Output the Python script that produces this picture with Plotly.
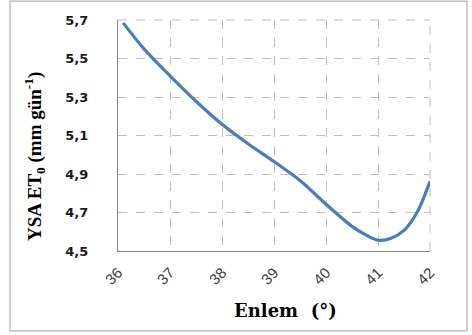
import plotly.graph_objects as go

# Data
latitude = [36.1, 36.5, 37.0, 37.5, 38.0, 38.5, 39.0, 39.5, 40.0, 40.5, 40.75, 41.0, 41.25, 41.5, 41.75, 42.0]
et0 = [5.685, 5.55, 5.41, 5.278, 5.158, 5.057, 4.965, 4.866, 4.743, 4.628, 4.586, 4.556, 4.566, 4.607, 4.70, 4.862]

x_ticks = [36, 37, 38, 39, 40, 41, 42]
y_ticks = [4.5, 4.7, 4.9, 5.1, 5.3, 5.5, 5.7]

fig = go.Figure()
fig.add_trace(go.Scatter(
    x=latitude, y=et0, mode="lines",
    line=dict(color="#4a7ebb", width=3.2, shape="spline", smoothing=0.9),
    showlegend=False, hoverinfo="skip",
))

grid_col = "#bfbfbf"
fig.update_layout(
    width=472, height=335,
    margin=dict(l=118, r=42, t=20, b=84),
    paper_bgcolor="white", plot_bgcolor="white",
    separators=",.",
    xaxis=dict(
        range=[36, 42], tickvals=x_ticks, ticktext=[str(v) for v in x_ticks],
        tickangle=-45, tickfont=dict(family="Liberation Sans", size=15, color="#404040"),
        showgrid=True, gridcolor=grid_col, griddash="dash", gridwidth=1,
        showline=True, linecolor="#868686", linewidth=1.3,
        ticks="", ticklabelstandoff=6, zeroline=False, fixedrange=True,
    ),
    yaxis=dict(
        range=[4.5, 5.7], tickvals=y_ticks, tickformat=".1f",
        tickfont=dict(family="DejaVu Sans", size=13, color="#1a1a1a", weight="bold"),
        showgrid=True, gridcolor=grid_col, griddash="dash", gridwidth=1,
        showline=True, linecolor="#868686", linewidth=1.3,
        ticks="", ticklabelstandoff=26, zeroline=False, fixedrange=True,
    ),
    shapes=[
        dict(type="rect", xref="paper", yref="paper", x0=-0.346, x1=1.1186, y0=-0.346, y1=1.082,
             line=dict(color="#b4b4b4", width=1.3), layer="above"),
        dict(type="line", xref="paper", yref="paper", x0=0, x1=1, y0=1, y1=1,
             line=dict(color=grid_col, width=1, dash="dash")),
        dict(type="line", xref="paper", yref="paper", x0=1, x1=1, y0=0, y1=1,
             line=dict(color=grid_col, width=1, dash="dash")),
    ],
    annotations=[
        dict(text="YSA ET<sub>0</sub> (mm gün<sup>-1</sup>)", xref="paper", yref="paper",
             x=(35 - 118) / 312, y=0.407, xanchor="center", yanchor="middle",
             textangle=-90, showarrow=False,
             font=dict(family="Liberation Serif", size=19, color="black", weight="bold")),
        dict(text="Enlem  (°)", xref="paper", yref="paper",
             x=(285 - 118) / 312, y=(251 - 310) / 231, xanchor="center", yanchor="middle",
             showarrow=False,
             font=dict(family="DejaVu Serif", size=18, color="black", weight="bold")),
    ],
)

fig.write_html("out.html", config={"displayModeBar": False},
               post_script="document.body.style.margin='0';")
